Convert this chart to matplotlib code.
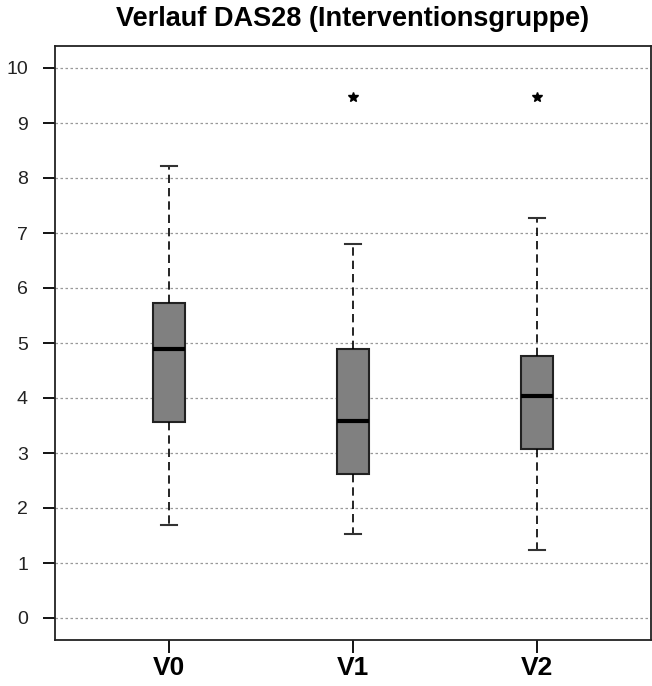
import matplotlib
matplotlib.use('Agg')
import matplotlib.pyplot as plt

# Werte
gruppen = ['V0', 'V1', 'V2']
whisker_unten = [1.69, 1.52, 1.24]
q1 = [3.56, 2.61, 3.07]
median = [4.90, 3.59, 4.04]
q3 = [5.73, 4.89, 4.76]
whisker_oben = [8.22, 6.80, 7.28]
ausreisser = [[], [9.47], [9.47]]

plt.rcParams['font.family'] = ['Liberation Sans', 'DejaVu Sans']

stats = []
for i in range(len(gruppen)):
    stats.append({'label': gruppen[i], 'whislo': whisker_unten[i], 'q1': q1[i],
                  'med': median[i], 'q3': q3[i], 'whishi': whisker_oben[i],
                  'fliers': ausreisser[i]})

fig = plt.figure(figsize=(6.52, 6.86), dpi=100)
ax = fig.add_axes([55/652, 1 - 640/686, 596/652, 594/686])

for y in range(0, 11):
    ax.axhline(y, color='#999999', linestyle=(0, (2, 2)), linewidth=0.9, zorder=0)

ax.bxp(stats, positions=[1, 2, 3], widths=0.174, patch_artist=True,
       boxprops=dict(facecolor='#808080', edgecolor='#222222', linewidth=1.5),
       medianprops=dict(color='black', linewidth=3),
       whiskerprops=dict(color='black', linestyle=(0, (5, 3)), linewidth=1.2),
       capprops=dict(color='#333333', linewidth=1.5),
       flierprops=dict(marker='*', markersize=7, markerfacecolor='black',
                       markeredgecolor='black', linestyle='none'),
       capwidths=0.087, zorder=2)

ax.set_xlim(0.38, 3.62)
ax.set_ylim(-0.4, 10.4)
ax.set_yticks(range(0, 11))
ax.set_yticklabels([str(i) for i in range(0, 11)], fontsize=14, color='#222222')
ax.set_xticks([1, 2, 3])
ax.set_xticklabels(gruppen, fontsize=19, fontweight='bold')
ax.tick_params(axis='y', length=9, width=1.3, pad=10.5)
ax.tick_params(axis='x', length=9.5, width=1.3, pad=2)
for s in ax.spines.values():
    s.set_linewidth(1.3)
    s.set_color('#222222')

fig.text(353/652, 1 - 25.7/686, 'Verlauf DAS28 (Interventionsgruppe)', fontsize=19.5,
         fontweight='bold', ha='center', va='baseline')

fig.savefig('out.png', dpi=100)
